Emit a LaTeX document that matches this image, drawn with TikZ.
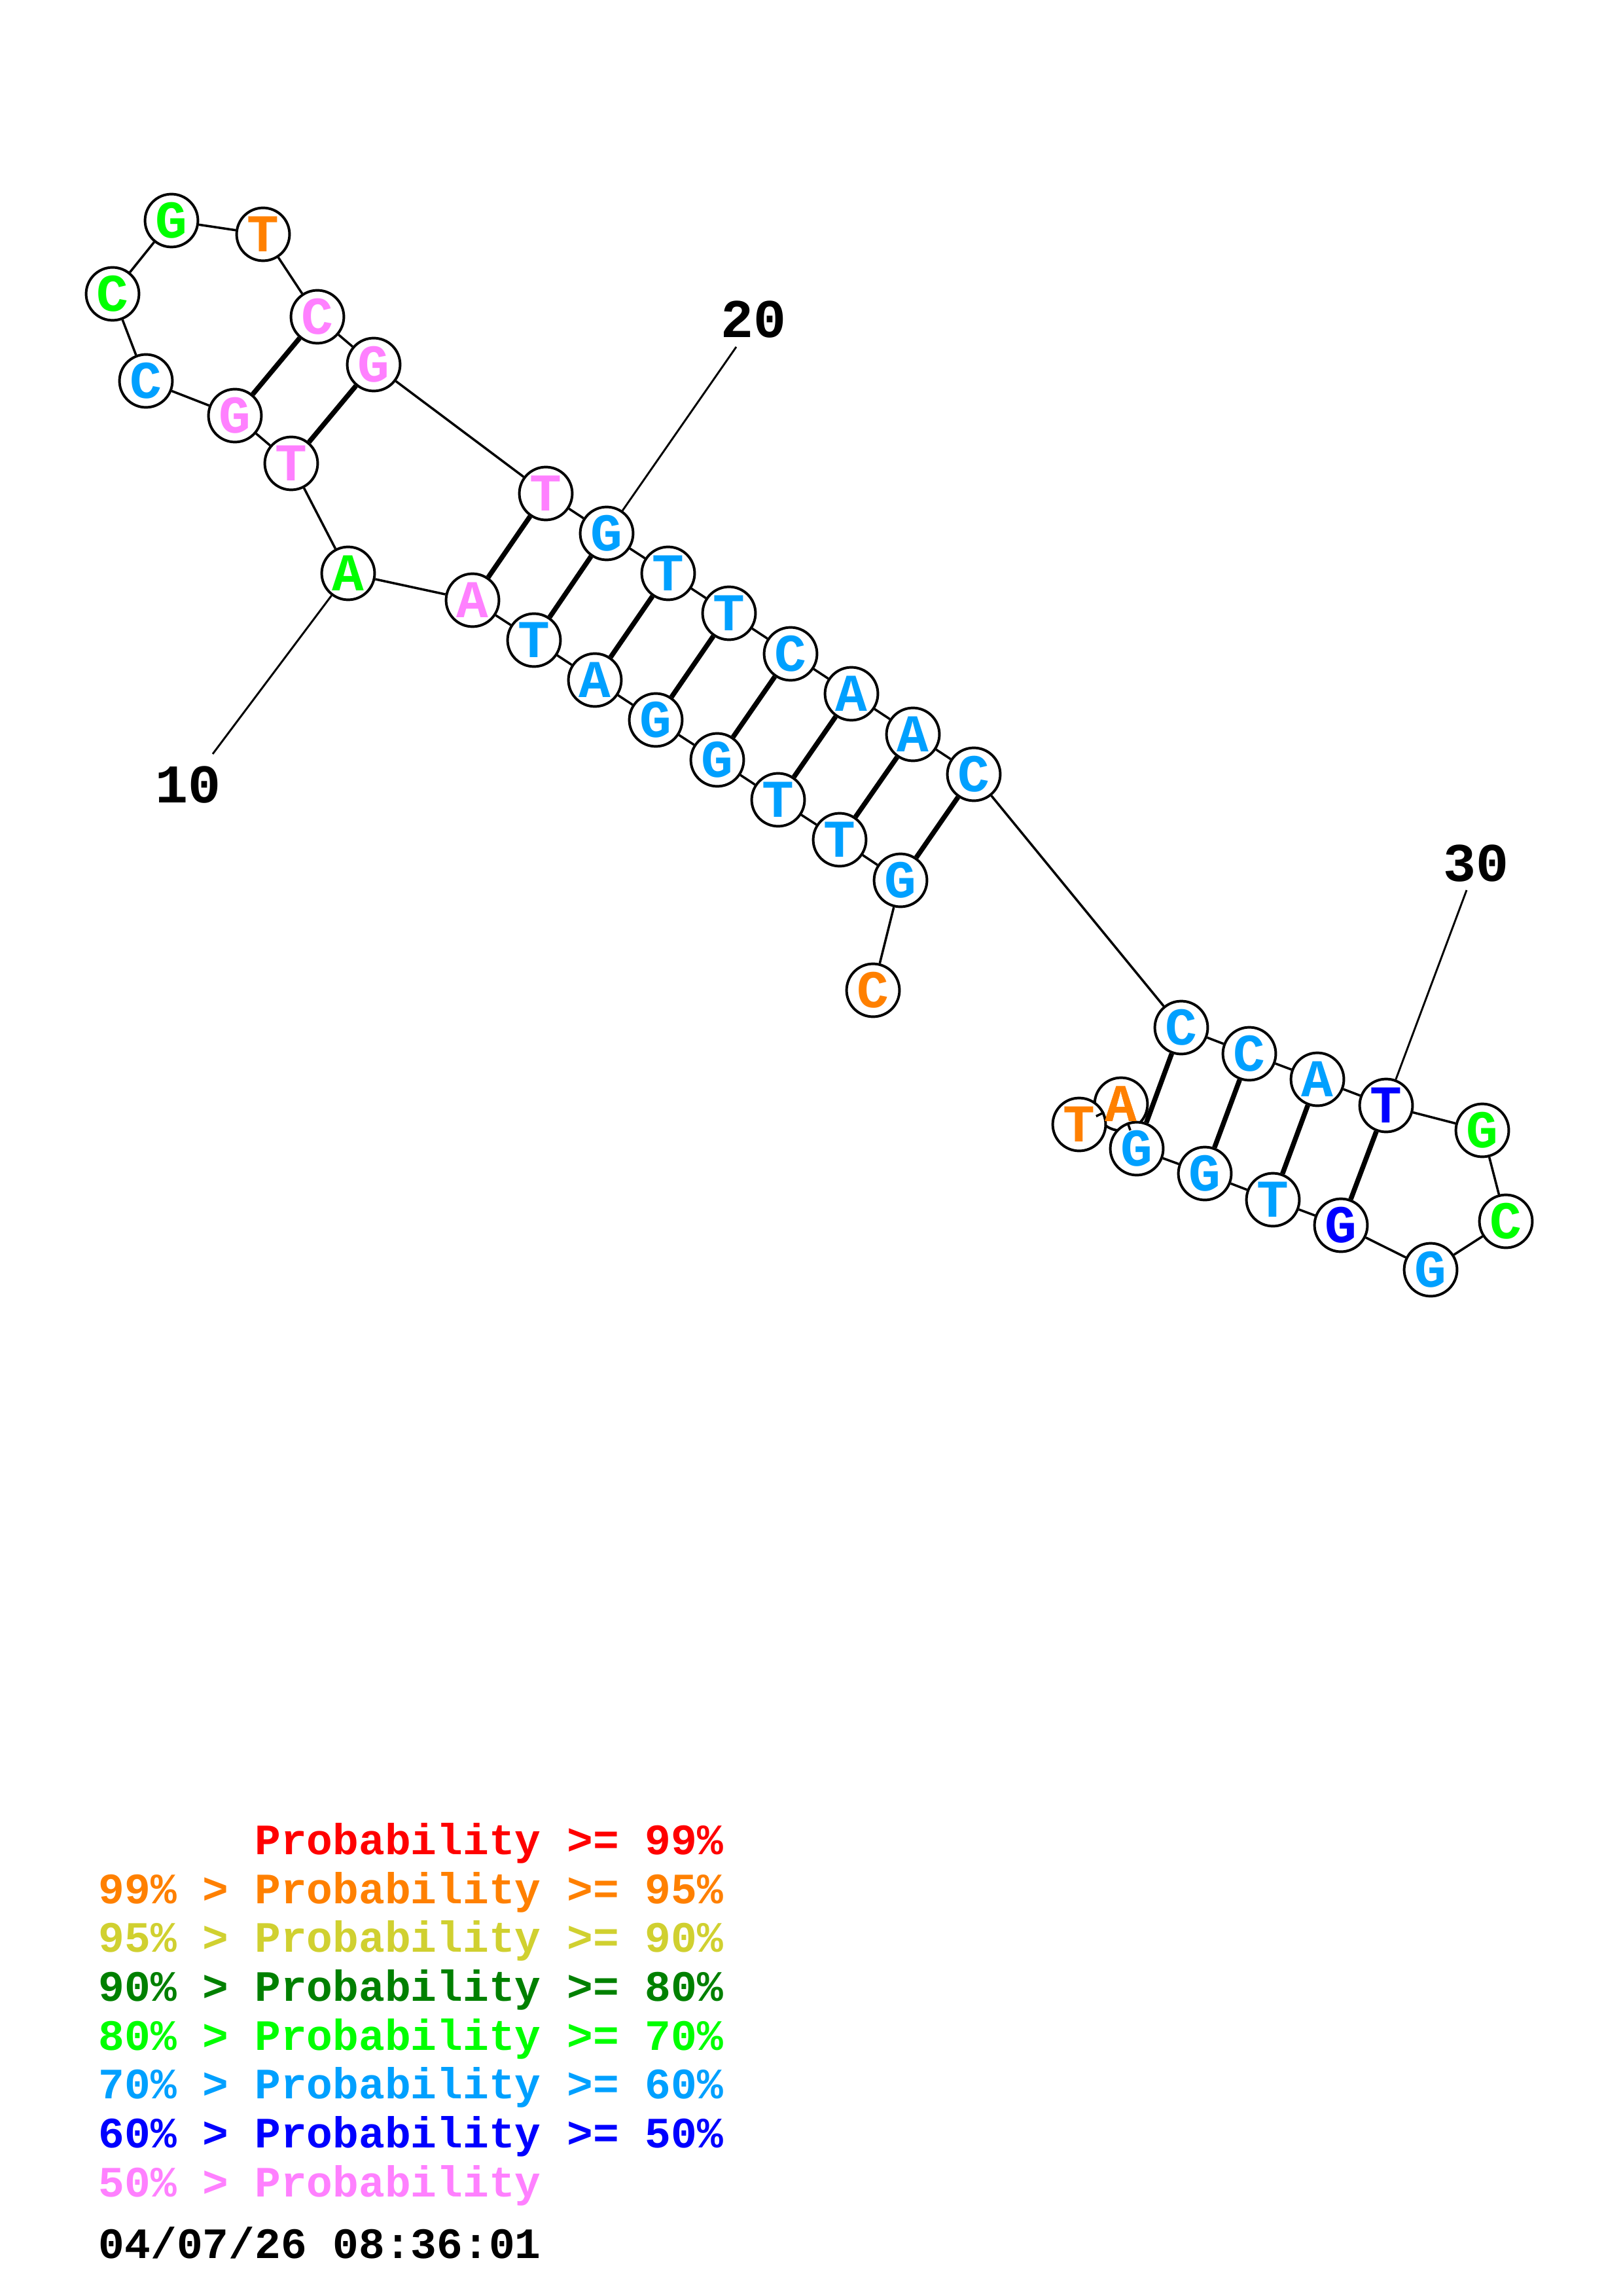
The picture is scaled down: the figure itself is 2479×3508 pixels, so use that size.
\documentclass[tikz,border=0pt]{standalone}
\usepackage{fontspec}
\setmonofont{Liberation Mono}
\definecolor{pk}{RGB}{255,128,255}
\definecolor{lb}{RGB}{0,160,255}
\definecolor{gr}{RGB}{0,255,0}
\definecolor{orr}{RGB}{255,128,0}
\definecolor{db}{RGB}{0,0,255}
\definecolor{rd}{RGB}{255,0,0}
\definecolor{yl}{RGB}{208,208,48}
\definecolor{dg}{RGB}{0,128,0}
\begin{document}
\begin{tikzpicture}[x=0.24pt,y=-0.24pt,
  nfont/.style={font=\ttfamily\bfseries\fontsize{19.5}{19.5}\selectfont},
  nt/.style={circle,draw=black,fill=white,line width=0.95pt,minimum size=19.4pt,inner sep=0pt,nfont},
  bb/.style={line width=0.85pt},
  bp/.style={line width=1.8pt},
  rl/.style={line width=0.7pt},
  num/.style={font=\ttfamily\bfseries\fontsize{20}{20}\selectfont,inner sep=0pt},
  leg/.style={anchor=base west,inner sep=0pt,font=\ttfamily\bfseries\fontsize{15.9}{15.9}\selectfont}]
\useasboundingbox (0,0) rectangle (2479,3508);
% nucleotides (38 drawn first so 37 and 39 lie over it)
\node[nt,text=orr] (n38) at (1713,1687) {A};
\foreach \i/\x/\y/\l/\c in {
 1/1334/1513/C/orr, 2/1376/1345/G/lb, 3/1283/1283/T/lb, 4/1189/1222/T/lb,
 5/1096/1161/G/lb, 6/1002/1100/G/lb, 7/909/1039/A/lb, 8/816/978/T/lb,
 9/722/917/A/pk, 10/532/876/A/gr, 11/445/708/T/pk, 12/359/635/G/pk,
 13/223/582/C/lb, 14/172/449/C/gr, 15/262/337/G/gr, 16/402/358/T/orr,
 17/485/484/C/pk, 18/571/557/G/pk, 19/834/754/T/pk, 20/927/815/G/lb,
 21/1021/876/T/lb, 22/1114/937/T/lb, 23/1208/999/C/lb, 24/1301/1060/A/lb,
 25/1395/1122/A/lb, 26/1488/1183/C/lb, 27/1805/1570/C/lb, 28/1909/1610/C/lb,
 29/2013/1649/A/lb, 30/2118/1689/T/db, 31/2265/1727/G/gr, 32/2301/1866/C/gr,
 33/2186/1940/G/lb, 34/2049/1872/G/db, 35/1945/1833/T/lb, 36/1841/1793/G/lb,
 37/1737/1755/G/lb, 39/1649/1718/T/orr}
 {\node[nt,text=\c] (n\i) at (\x,\y) {\l};}
% letter of 38 printed over the neighbouring circles
\node[nfont,inner sep=0pt,text=orr] (n38l) at (n38) {A};
% backbone
\foreach \i in {1,...,38}{
  \pgfmathtruncatemacro{\j}{\i+1}
  \draw[bb] (n\i) -- (n\j);
}
% base pairs
\foreach \a/\b in {2/26,3/25,4/24,5/23,6/22,7/21,8/20,9/19,11/18,12/17,27/37,28/36,29/35,30/34}
  {\draw[bp] (n\a) -- (n\b);}
% ruler
\node[num] (l10) at (288,1199) {10};
\node[num] (l20) at (1151,488) {20};
\node[num] (l30) at (2255,1319) {30};
\coordinate (r10) at (325,1152);
\coordinate (r20) at (1125,530);
\coordinate (r30) at (2241,1360);
\draw[rl] (n10) -- (r10);
\draw[rl] (n20) -- (r20);
\draw[rl] (n30) -- (r30);
% legend
\node[leg,text=rd] (g1) at (150,2833) {\hphantom{99\% > }Probability >= 99\%};
\node[leg,text=orr] (g2) at (150,2908) {99\% > Probability >= 95\%};
\node[leg,text=yl] (g3) at (150,2982) {95\% > Probability >= 90\%};
\node[leg,text=dg] (g4) at (150,3057) {90\% > Probability >= 80\%};
\node[leg,text=gr] (g5) at (150,3132) {80\% > Probability >= 70\%};
\node[leg,text=lb] (g6) at (150,3206) {70\% > Probability >= 60\%};
\node[leg,text=db] (g7) at (150,3281) {60\% > Probability >= 50\%};
\node[leg,text=pk] (g8) at (150,3356) {50\% > Probability};
\node[leg,text=black] (g9) at (150,3450) {04/07/26 08:36:01};
\end{tikzpicture}
\end{document}
